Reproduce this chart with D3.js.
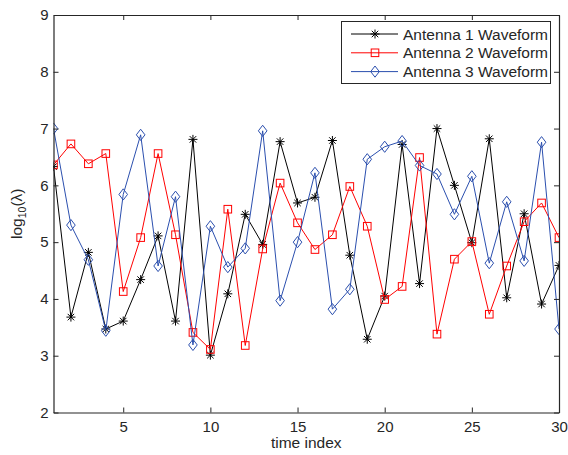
<!DOCTYPE html>
<html><head><meta charset="utf-8">
<script src="https://cdn.jsdelivr.net/npm/d3@7"></script>
<style>body{margin:0;background:#fff}svg{display:block}text{font-family:"Liberation Sans",Arial,sans-serif}</style>
</head><body>
<script>
const timeIndex = d3.range(1, 31);
const antenna1 = [6.33,3.68,4.82,3.47,3.61,4.34,5.11,3.61,6.81,3.01,4.09,5.49,4.96,6.77,5.69,5.79,6.79,4.77,3.29,4.05,6.72,4.27,7.00,6.00,4.99,6.82,4.02,5.50,3.91,4.59];
const antenna2 = [6.36,6.73,6.38,6.56,4.13,5.08,6.56,5.13,3.41,3.11,5.58,3.18,4.88,6.04,5.34,4.87,5.13,5.98,5.28,3.99,4.22,6.49,3.38,4.70,5.01,3.73,4.58,5.36,5.69,5.08];
const antenna3 = [7.00,5.30,4.69,3.44,5.84,6.89,4.58,5.80,3.19,5.28,4.56,4.89,6.96,3.97,5.00,6.22,3.82,4.17,6.46,6.68,6.78,6.35,6.20,5.49,6.16,4.63,5.71,4.67,6.76,3.47];
const seriesNames = ["Antenna 1 Waveform","Antenna 2 Waveform","Antenna 3 Waveform"];
const xTicks = [5,10,15,20,25,30];
const yTicks = [2,3,4,5,6,7,8,9];

const W = 568, H = 455;
const m = {left:53.5, right:W-559, top:15, bottom:H-412.5};
const svg = d3.select("body").append("svg").attr("width",W).attr("height",H);
const x = d3.scaleLinear().domain([1,30]).range([m.left, W-m.right]);
const y = d3.scaleLinear().domain([2,9]).range([H-m.bottom, m.top]);

const colors = ["#000000","#ff0000","#2b4fae"];
const shapes = ["star","square","diamond"];
const allSeries = [antenna1, antenna2, antenna3];

svg.append("defs").append("clipPath").attr("id","pc").append("rect")
  .attr("x",m.left).attr("y",m.top).attr("width",x(30)-x(1)).attr("height",y(2)-y(9));

function marker(g, shape, cx, cy, color){
  if(shape==="star"){
    const r=4.5, d=r*0.72;
    g.append("path").attr("d",`M${cx-r},${cy}H${cx+r}M${cx},${cy-r}V${cy+r}M${cx-d},${cy-d}L${cx+d},${cy+d}M${cx-d},${cy+d}L${cx+d},${cy-d}`)
      .attr("stroke",color).attr("stroke-width",1).attr("fill","none");
  } else if(shape==="square"){
    const s=3.8;
    g.append("rect").attr("x",cx-s).attr("y",cy-s).attr("width",2*s).attr("height",2*s)
      .attr("stroke",color).attr("stroke-width",1).attr("fill","none");
  } else {
    const w=4.3, h=5.6;
    g.append("path").attr("d",`M${cx},${cy-h}L${cx+w},${cy}L${cx},${cy+h}L${cx-w},${cy}Z`)
      .attr("stroke",color).attr("stroke-width",1).attr("fill","none");
  }
}

const plot = svg.append("g").attr("clip-path","url(#pc)");
const line = d3.line().x((d,i)=>x(timeIndex[i])).y(d=>y(d));
allSeries.forEach((s,k)=>{
  plot.append("path").datum(s).attr("d",line).attr("fill","none").attr("stroke",colors[k]).attr("stroke-width",1);
  const g = plot.append("g");
  s.forEach((v,i)=>marker(g, shapes[k], x(timeIndex[i]), y(v), colors[k]));
});

const axCol = "#262626";
const fmt = d3.format("d");
const gx = svg.append("g").attr("transform",`translate(0,${y(2)})`)
  .call(d3.axisBottom(x).tickValues(xTicks).tickFormat(fmt).tickSizeInner(-5).tickSizeOuter(0).tickPadding(9));
const gxt = svg.append("g").attr("transform",`translate(0,${y(9)})`)
  .call(d3.axisTop(x).tickValues(xTicks).tickSizeInner(-5).tickSizeOuter(0).tickFormat(""));
const gy = svg.append("g").attr("transform",`translate(${x(1)},0)`)
  .call(d3.axisLeft(y).tickValues(yTicks).tickFormat(fmt).tickSizeInner(-5).tickSizeOuter(0).tickPadding(5));
const gyr = svg.append("g").attr("transform",`translate(${x(30)},0)`)
  .call(d3.axisRight(y).tickValues(yTicks).tickSizeInner(-5).tickSizeOuter(0).tickFormat(""));
[gx,gxt,gy,gyr].forEach(g=>{
  g.select(".domain").attr("stroke",axCol).attr("stroke-width",1.2);
  g.selectAll(".tick line").attr("stroke",axCol);
  g.selectAll(".tick text").attr("fill",axCol).style("font-size","15px").style("font-family","'Liberation Sans',Arial,sans-serif");
});

svg.append("text").attr("x",(x(1)+x(30))/2).attr("y",448).attr("text-anchor","middle")
  .attr("fill",axCol).style("font-size","15.5px").text("time index");
const yl = svg.append("text").attr("transform",`translate(22,${(y(2)+y(9))/2}) rotate(-90)`)
  .attr("text-anchor","middle").attr("fill",axCol).style("font-size","15.5px");
yl.append("tspan").text("log");
yl.append("tspan").attr("dy",4).style("font-size","10.5px").text("10");
yl.append("tspan").attr("dy",-4).text("(λ)");

const lg = svg.append("g");
lg.append("rect").attr("x",341.5).attr("y",21.5).attr("width",209).attr("height",62)
  .attr("fill","#fff").attr("stroke",axCol).attr("stroke-width",1);
seriesNames.forEach((n,k)=>{
  const yy = 34 + k*18.8;
  lg.append("line").attr("x1",351).attr("x2",398).attr("y1",yy).attr("y2",yy).attr("stroke",colors[k]).attr("stroke-width",1);
  marker(lg, shapes[k], 375, yy, colors[k]);
  lg.append("text").attr("x",403).attr("y",yy+5.5).attr("fill",axCol).style("font-size","15.5px").text(n);
});
</script>
</body></html>
